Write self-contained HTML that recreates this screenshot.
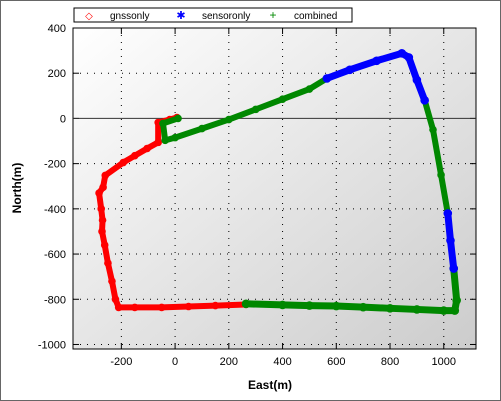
<!DOCTYPE html>
<html><head><meta charset="utf-8"><style>
body{margin:0;background:#fff}
svg{display:block;font-family:"Liberation Sans",sans-serif}
</style></head><body>
<svg id="chart" width="501" height="401">
<defs>
<linearGradient id="bg" x1="0" y1="0" x2="1" y2="1">
<stop offset="0" stop-color="#ffffff"/><stop offset="1" stop-color="#cccccc"/>
</linearGradient>
</defs>
<rect x="0.5" y="0.5" width="500" height="400" fill="#fff" stroke="#666"/>
<rect x="73" y="28" width="403" height="321" fill="url(#bg)" stroke="#000"/>
<g id="grid"></g><g id="axes"></g><g id="series"></g>
<g>
<rect x="74" y="8" width="278" height="14" fill="#fff" stroke="#000"/>
<text x="89" y="19" font-size="10" fill="#f00" text-anchor="middle">◇</text>
<text x="110" y="19" font-size="10">gnssonly</text>
<text x="181" y="19" font-size="11" fill="#00f" text-anchor="middle">✱</text>
<text x="202" y="19" font-size="10">sensoronly</text>
<text x="273" y="19" font-size="12" fill="#080" text-anchor="middle">+</text>
<text x="294" y="19" font-size="10">combined</text>
</g>
<text x="270" y="389" font-size="12" font-weight="bold" text-anchor="middle">East(m)</text>
<text transform="translate(21,188) rotate(-90)" font-size="12" font-weight="bold" text-anchor="middle">North(m)</text>
</svg>
<script>
const xTicks=[-200,0,200,400,600,800,1000];
const yTicks=[400,200,0,-200,-400,-600,-800,-1000];
const gnssX=[7,-20,-63,-63,-104,-150,-193,-260,-268,-283,-275,-270,-272,-262,-250,-235,-222,-210,-150,-50,50,150,264];
const gnssY=[4,-5,-18,-106,-133,-165,-195,-252,-305,-330,-400,-450,-500,-560,-640,-720,-800,-836,-836,-836,-832,-828,-823];
const sensorX=[565,650,750,844,870,900,929];
const sensorY=[177,215,255,288,270,170,80];
const sensor2X=[1015,1025,1037];
const sensor2Y=[-420,-540,-664];
const combX=[11,-45,-37,0,100,200,300,400,500,565];
const combY=[0,-22,-97,-85,-45,-5,40,85,130,177];
const comb2X=[929,960,990,1015];
const comb2Y=[80,-50,-250,-420];
const comb3X=[1037,1048,1041,1000,900,800,700,600,500,400,264];
const comb3Y=[-664,-805,-850,-850,-845,-840,-835,-830,-828,-825,-820];
const X0=73,X1=476,Y0=28,Y1=349,xmin=-380,xmax=1120,ymin=-1020,ymax=400;
const sx=v=>X0+(v-xmin)/(xmax-xmin)*(X1-X0);
const sy=v=>Y1-(v-ymin)/(ymax-ymin)*(Y1-Y0);
const NS='http://www.w3.org/2000/svg';
function mk(tag,attrs,parent){const e=document.createElementNS(NS,tag);for(const k in attrs)e.setAttribute(k,attrs[k]);parent.appendChild(e);return e;}
const grid=document.getElementById('grid'),axes=document.getElementById('axes'),ser=document.getElementById('series');
xTicks.forEach(t=>{
 const l=mk('line',{x1:sx(t),x2:sx(t),y1:Y0,y2:Y1,stroke:'#000','stroke-dasharray':'1,6'},grid);
 
 
 mk('line',{x1:sx(t),x2:sx(t),y1:Y1,y2:Y1-6,stroke:'#000'},axes);
 mk('line',{x1:sx(t),x2:sx(t),y1:Y0,y2:Y0+6,stroke:'#000'},axes);
 const tx=mk('text',{x:sx(t),y:365,'font-size':11,'text-anchor':'middle'},axes);
 tx.textContent=t;
 
 
});
yTicks.forEach(t=>{
 if(t!==0){const l=mk('line',{x1:X0,x2:X1,y1:sy(t),y2:sy(t),stroke:'#000','stroke-dasharray':'1,6'},grid);
 
 }
 mk('line',{x1:X0,x2:X0+6,y1:sy(t),y2:sy(t),stroke:'#000'},axes);
 mk('line',{x1:X1,x2:X1-6,y1:sy(t),y2:sy(t),stroke:'#000'},axes);
 const tx=mk('text',{x:66,y:sy(t)+4,'font-size':11,'text-anchor':'end'},axes);
 tx.textContent=t;
 
 
});
const zl=mk('line',{x1:X0,x2:X1,y1:sy(0),y2:sy(0),stroke:'#333'},axes);


function series(xs,ys,color,name,w){
 const pts=xs.map((x,i)=>sx(x)+','+sy(ys[i])).join(' ');
 const p=mk('polyline',{points:pts,fill:'none',stroke:color,'stroke-width':w,'stroke-linejoin':'round','stroke-linecap':'round'},ser);
 
 
 xs.forEach((x,i)=>{
  const m=mk('circle',{cx:sx(x),cy:sy(ys[i]),r:w/2+0.8,fill:color},ser);
  
  
 });
}
series(gnssX,gnssY,'#f00','gnssonly-series',6);
series(combX,combY,'#080','combined-series',6);
series(comb2X,comb2Y,'#080','combined-series',6);
series(comb3X,comb3Y,'#080','combined-series',7);
series(sensorX,sensorY,'#00f','sensoronly-series',7);
series(sensor2X,sensor2Y,'#00f','sensoronly-series',7);
</script>
</body></html>
